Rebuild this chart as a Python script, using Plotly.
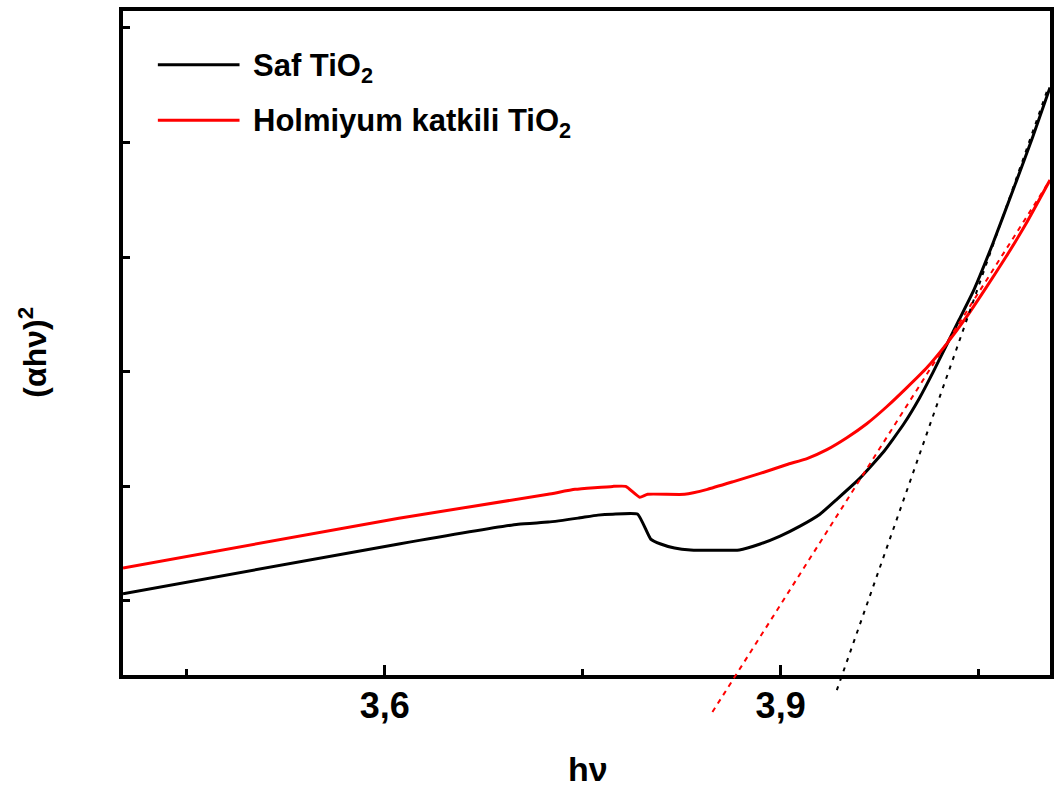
import plotly.graph_objects as go

# ---- data ----
saf_x = [3.4015, 3.6106, 3.7011, 3.7238, 3.7464, 3.7615, 3.7728, 3.7917, 3.8015, 3.8091,
         3.8196, 3.8317, 3.8687, 3.8845, 3.8996, 3.9147, 3.9298, 3.9426, 3.9600, 3.9781,
         3.9932, 4.0053, 4.0158, 4.0257, 4.0355, 4.0460, 4.0611, 4.0762, 4.0913, 4.1042]
saf_y = [1.061, 1.495, 1.668, 1.686, 1.721, 1.747, 1.755, 1.755, 1.538, 1.495,
         1.460, 1.443, 1.443, 1.495, 1.564, 1.651, 1.755, 1.885, 2.068, 2.300,
         2.540, 2.770, 3.000, 3.230, 3.457, 3.700, 4.125, 4.585, 5.054, 5.480]

ho_x = [3.4015, 3.6106, 3.7238, 3.7442, 3.7728, 3.7826, 3.7932, 3.7992, 3.8272, 3.8445,
        3.8649, 3.8845, 3.9049, 3.9200, 3.9351, 3.9502, 3.9653, 3.9804, 3.9955, 4.0106,
        4.0257, 4.0408, 4.0559, 4.0710, 4.0860, 4.1042]
ho_y = [1.286, 1.720, 1.929, 1.972, 1.998, 1.998, 1.903, 1.929, 1.929, 1.972,
        2.042, 2.111, 2.189, 2.241, 2.319, 2.423, 2.545, 2.693, 2.858, 3.031,
        3.240, 3.475, 3.735, 4.005, 4.290, 4.672]

# linear fits (tangents) drawn as dashed lines
fit_saf_x = [3.9426, 4.1026]
fit_saf_y = [0.219, 5.471]
fit_ho_x = [3.8483, 4.1042]
fit_ho_y = [0.028, 4.672]

x_ticks = [3.6, 3.9]
x_ticktext = ["3,6", "3,9"]
x_minor = [3.45, 3.75, 4.05]
y_ticks = [1, 2, 3, 4, 5, 6]

series_names = ["Saf TiO<sub>2</sub>", "Holmiyum katkili TiO<sub>2</sub>"]

FONT = "Liberation Sans"
XR = [3.4015, 4.1042]

fig = go.Figure()
fig.add_trace(go.Scatter(x=saf_x, y=saf_y, mode="lines",
                         line=dict(color="black", width=3, shape="spline", smoothing=0.4),
                         xaxis="x", yaxis="y", showlegend=False))
fig.add_trace(go.Scatter(x=ho_x, y=ho_y, mode="lines",
                         line=dict(color="#ff0000", width=3, shape="spline", smoothing=0.4),
                         xaxis="x", yaxis="y", showlegend=False))
fig.add_trace(go.Scatter(x=fit_ho_x, y=fit_ho_y, mode="lines",
                         line=dict(color="#ff0000", width=2, dash="5px,5px"),
                         xaxis="x2", yaxis="y2", showlegend=False))
fig.add_trace(go.Scatter(x=fit_saf_x, y=fit_saf_y, mode="lines",
                         line=dict(color="black", width=2, dash="4px,6px"),
                         xaxis="x2", yaxis="y2", showlegend=False))

fig.update_layout(
    width=1061, height=794,
    margin=dict(l=123, r=7, t=7, b=72),
    paper_bgcolor="white", plot_bgcolor="rgba(0,0,0,0)",
    font=dict(family=FONT, color="black"),
    xaxis=dict(range=XR, domain=[0, 1], anchor="y",
               showline=True, linewidth=4, linecolor="black", mirror=True,
               showgrid=False, zeroline=False,
               tickvals=x_ticks, ticktext=x_ticktext,
               ticks="inside", ticklen=10, tickwidth=3, tickcolor="black",
               ticklabelstandoff=-4,
               tickfont=dict(family=FONT, size=36, color="black", weight="bold"),
               minor=dict(tickvals=x_minor, ticks="inside", ticklen=6, tickwidth=3,
                          tickcolor="black", showgrid=False)),
    yaxis=dict(range=[0.349, 6.148], domain=[0.06573, 1], anchor="x",
               showline=True, linewidth=4, linecolor="black", mirror=True,
               showgrid=False, zeroline=False,
               tickvals=y_ticks, showticklabels=False,
               ticks="inside", ticklen=7, tickwidth=3, tickcolor="black"),
    xaxis2=dict(range=XR, domain=[0, 1], anchor="y2", visible=False),
    yaxis2=dict(range=[-0.059, 6.148], domain=[0, 1], anchor="x2", visible=False),
)

# legend drawn manually
leg_y = [0.9245, 0.8462]
leg_colors = ["black", "#ff0000"]
for name, yy, col in zip(series_names, leg_y, leg_colors):
    fig.add_shape(type="line", xref="paper", yref="paper", x0=0.0376, x1=0.1257, y0=yy, y1=yy,
                  line=dict(color=col, width=3))
    fig.add_annotation(xref="paper", yref="paper", x=0.1386, y=yy - 0.004, text="<b>" + name + "</b>",
                       showarrow=False, xanchor="left", yanchor="middle",
                       font=dict(family=FONT, size=31, color="black"))

fig.add_annotation(xref="paper", yref="paper", x=0.5016, y=-0.066, text="<b>hν</b>",
                   showarrow=False, xanchor="center", yanchor="middle",
                   font=dict(family=FONT, size=34, color="black"))
fig.add_annotation(xref="paper", yref="paper", x=-0.0975, y=0.5203, text="<b>(αhν)<sup>2</sup></b>",
                   showarrow=False, xanchor="center", yanchor="middle", textangle=-90,
                   font=dict(family=FONT, size=32, color="black"))

fig.write_html("out.html", config={"displayModeBar": False},
               post_script="document.body.style.margin='0';")
